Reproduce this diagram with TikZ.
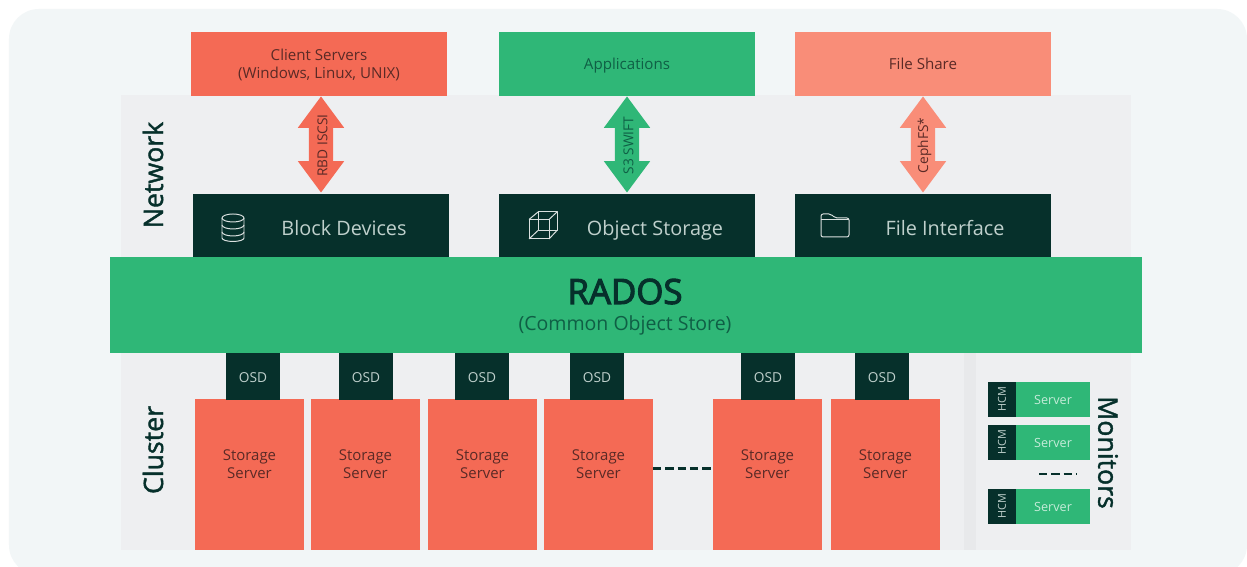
\documentclass[tikz,border=0pt]{standalone}
\usepackage{fontspec}
\setmainfont{Open Sans}
\newfontfamily\headfont[FakeBold=1.5]{Open Sans}
\newfontfamily\radosfont[FakeBold=3]{Open Sans}
\usetikzlibrary{shapes.arrows}
\definecolor{ColorBg}{HTML}{F2F6F7}
\definecolor{ColorBand}{HTML}{EEEFF1}
\definecolor{ColorStrip}{HTML}{E8E9EB}
\definecolor{ColorCoral}{HTML}{F46A55}
\definecolor{ColorSalmon}{HTML}{F98D78}
\definecolor{ColorGreen}{HTML}{2FB777}
\definecolor{ColorDark}{HTML}{06302B}
\definecolor{ColorOnCoral}{HTML}{5A2A26}
\definecolor{ColorOnGreen}{HTML}{0F5F45}
\definecolor{ColorOnDark}{HTML}{BFD0CC}
\tikzset{
  flatbox/.style={minimum width=2.56cm,minimum height=0.64cm,inner sep=0pt,outer sep=0pt},
  toptxt/.style={inner sep=0pt,align=center,font=\fontsize{4.3}{5.1}\selectfont},
  darkbox/.style={flatbox,fill=ColorDark},
  darktxt/.style={text=ColorOnDark,inner sep=0pt,anchor=base,font=\fontsize{5.65}{6.6}\selectfont},
  sidetxt/.style={text=ColorDark,inner sep=0pt,font=\fontsize{7.6}{9}\headfont},
  linkarrow/.style={shape=double arrow,minimum height=0.96cm,minimum width=0.45cm,
    double arrow head extend=0.11cm,double arrow tip angle=73,rotate=90,
    inner xsep=0pt,inner ysep=0.115cm,outer sep=0pt},
  linktxt/.style={rotate=90,inner sep=0pt,font=\fontsize{3.9}{4.6}\selectfont},
  osdbox/.style={fill=ColorDark,minimum width=0.54cm,minimum height=0.47cm,
    inner sep=0pt,outer sep=0pt},
  osdtxt/.style={text=ColorOnDark,inner sep=0pt,font=\fontsize{3.9}{4.7}\selectfont},
  storebox/.style={fill=ColorCoral,minimum width=1.09cm,minimum height=1.51cm,inner sep=0pt,outer sep=0pt},
  storetxt/.style={text=ColorOnCoral,inner sep=0pt,align=center,font=\fontsize{4.25}{5.1}\selectfont},
  hcmbox/.style={fill=ColorDark,text=ColorOnDark,minimum width=0.28cm,minimum height=0.35cm,
    inner sep=0pt,outer sep=0pt,font=\fontsize{3.1}{3.6}\selectfont},
  monbox/.style={fill=ColorGreen,text=white!72!ColorGreen,minimum width=0.74cm,minimum height=0.35cm,
    inner sep=0pt,outer sep=0pt,font=\fontsize{3.6}{4.3}\selectfont},
  gapline/.style={ColorDark,line width=0.65pt,dash pattern=on 2.4pt off 1.1pt},
  iconline/.style={white!85!ColorDark,line width=0.28pt,line join=round}
}
\begin{document}
\begin{tikzpicture}
    \useasboundingbox (0,0) rectangle (12.47,5.67);
    %Background
    \fill[white] (0,0) rectangle (12.47,5.67);
    \fill[ColorBg,rounded corners=0.3cm] (0.09,-0.08) rectangle (12.47,5.58);
    \fill[ColorBand] (1.21,3.10) rectangle (11.31,4.72);
    \fill[ColorBand] (1.21,0.17) rectangle (11.31,2.14);
    \fill[ColorStrip] (9.64,0.17) rectangle (9.76,2.14);
    %Top row
    \node[flatbox,fill=ColorCoral] (client) at (3.19,5.03) {};
    \node[flatbox,fill=ColorGreen] (apps) at (6.27,5.03) {};
    \node[flatbox,fill=ColorSalmon] (share) at (9.23,5.03) {};
    \node[toptxt,text=ColorOnCoral] (clienttxt) at (3.19,5.02) {Client Servers\\(Windows, Linux, UNIX)};
    \node[toptxt,text=ColorOnGreen,anchor=base] (appstxt) at (6.27,4.97) {Applications};
    \node[toptxt,text=ColorOnCoral,anchor=base] (sharetxt) at (9.23,4.97) {File Share};
    %Interfaces
    \node[darkbox] (block) at (3.21,3.41) {};
    \node[darkbox] (object) at (6.27,3.41) {};
    \node[darkbox] (file) at (9.23,3.41) {};
    \node[darktxt] (blocktxt) at (3.44,3.315) {Block Devices};
    \node[darktxt] (objecttxt) at (6.55,3.315) {Object Storage};
    \node[darktxt] (filetxt) at (9.45,3.315) {File Interface};
    %Arrows
    \node[linkarrow,fill=ColorCoral] (rbd) at (3.21,4.225) {};
    \node[linkarrow,fill=ColorGreen] (swift) at (6.27,4.225) {};
    \node[linkarrow,fill=ColorSalmon] (ceph) at (9.23,4.225) {};
    \node[linktxt,text=ColorOnCoral] (rbdtxt) at (3.225,4.215) {RBD ISCSI};
    \node[linktxt,text=ColorOnGreen] (swifttxt) at (6.285,4.215) {S3 SWIFT};
    \node[linktxt,text=ColorOnCoral] (cephtxt) at (9.245,4.215) {CephFS*};
    %Icons
    \begin{scope}[iconline,shift={(2.33,3.40)}]
        \draw (-0.11,0.09) arc (180:0:0.11 and 0.04) -- (0.11,-0.11) arc (0:-180:0.11 and 0.035) -- cycle;
        \draw (-0.11,0.09) arc (180:360:0.11 and 0.04);
        \draw (-0.11,0.02) arc (180:360:0.11 and 0.04);
        \draw (-0.11,-0.05) arc (180:360:0.11 and 0.04);
    \end{scope}
    \begin{scope}[iconline,shift={(5.43,3.415)}]
        \draw (-0.14,-0.135) rectangle (0.06,0.06);
        \draw (-0.05,-0.05) rectangle (0.14,0.135);
        \draw (-0.14,-0.135) -- (-0.05,-0.05) (0.06,-0.135) -- (0.14,-0.05);
        \draw (-0.14,0.06) -- (-0.05,0.135) (0.06,0.06) -- (0.14,0.135);
    \end{scope}
    \begin{scope}[iconline,shift={(8.35,3.415)},rounded corners=0.6pt]
        \draw (-0.14,-0.115) -- (-0.14,0.115) -- (-0.04,0.115) -- (0,0.075) -- (0.14,0.075) -- (0.14,-0.115) -- cycle;
        \draw (-0.14,0.06) -- (0.14,0.06);
    \end{scope}
    %Core
    \node[minimum width=10.32cm,minimum height=0.96cm,fill=ColorGreen,inner sep=0pt,outer sep=0pt] (rados) at (6.26,2.62) {};
    \node[inner sep=0pt,text=ColorDark,anchor=base,font=\fontsize{9.9}{11.5}\radosfont] (radostxt) at (6.25,2.63) {RADOS};
    \node[inner sep=0pt,text=ColorOnGreen,font=\fontsize{5.55}{6.6}\selectfont] (radossub) at (6.25,2.42) {(Common Object Store)};
    %Storage servers
    \foreach \name/\x/\ox in {a/2.495/2.53,b/3.655/3.66,c/4.825/4.82,d/5.985/5.97,e/7.675/7.68,f/8.855/8.82}{
        \node[storebox] (store\name) at (\x,0.925) {};
        \node[osdbox] (osd\name) at (\ox,1.905) {};
        \node[osdtxt] (osdtxt\name) at (\ox,1.895) {OSD};
        \node[storetxt] (txt\name) at (\x,1.03) {Storage\\Server};
    }
    \draw[gapline] (stored.east |- 0,0.985) -- (storee.west |- 0,0.985);
    %Monitors
    \foreach \name/\y in {a/1.675,b/1.245,c/0.605}{
        \node[hcmbox] (hcm\name) at (10.02,\y) {\rotatebox{90}{HCM}};
        \node[monbox,anchor=west] (mon\name) at (hcm\name.east) {Server};
    }
    \coordinate (gapl) at (10.39,0.93);
    \coordinate (gapr) at (10.76,0.93);
    \draw[gapline] (gapl) -- (gapr);
    %Labels
    \node[sidetxt,rotate=90] (network) at (1.53,3.92) {Network};
    \node[sidetxt,rotate=90] (cluster) at (1.53,1.17) {Cluster};
    \node[sidetxt,rotate=-90] (monitors) at (11.08,1.145) {Monitors};
\end{tikzpicture}
\end{document}
